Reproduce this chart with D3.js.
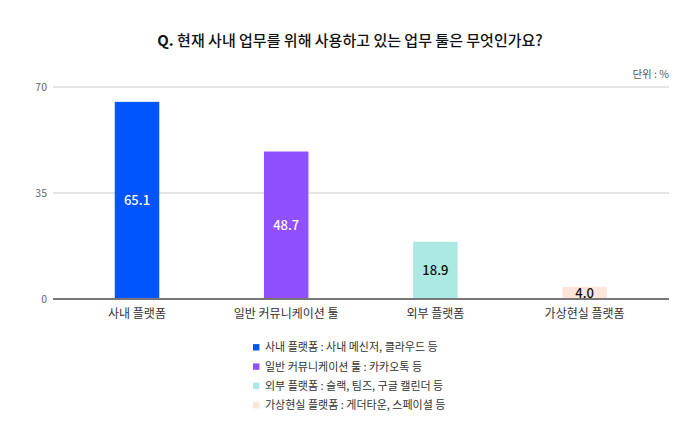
<!DOCTYPE html>
<html><head><meta charset="utf-8">
<script src="https://cdn.jsdelivr.net/npm/d3@7"></script>
<style>
html,body{margin:0;padding:0;background:#fff;}
svg{display:block;font-family:"Noto Sans CJK KR","Noto Sans",sans-serif;}
</style></head>
<body><svg id="chart" width="700" height="443"></svg>
<script>
const categories = ["사내 플랫폼", "일반 커뮤니케이션 툴", "외부 플랫폼", "가상현실 플랫폼"];
const values = [65.1, 48.7, 18.9, 4.0];
const colors = ["#0055ff", "#9150ff", "#ade9e3", "#fde5da"];
const labelColors = ["#ffffff", "#ffffff", "#111111", "#111111"];
const yTicks = [0, 35, 70];
const legendLabels = [
  "사내 플랫폼 : 사내 메신저, 클라우드 등",
  "일반 커뮤니케이션 툴 : 카카오톡 등",
  "외부 플랫폼 : 슬랙, 팀즈, 구글 캘린더 등",
  "가상현실 플랫폼 : 게더타운, 스페이셜 등"
];
const title = "Q. 현재 사내 업무를 위해 사용하고 있는 업무 툴은 무엇인가요?";
const unitLabel = "단위 : %";

const svg = d3.select("#chart");
const plotL = 53, plotR = 669, plotT = 87, plotB = 299;

const x = d3.scaleBand().domain(categories).range([62.4, 659.2]).paddingInner(0).paddingOuter(0);
const y = d3.scaleLinear().domain([0, 70]).range([plotB, plotT]);
const barW = x.bandwidth() * 0.298;

// title
const t = svg.append("text").attr("x", 350).attr("y", 46).attr("text-anchor", "middle")
  .attr("font-size", 15).attr("font-weight", 500).attr("fill", "#111");
t.append("tspan").attr("font-weight", 700).text(title.slice(0, 2));
t.append("tspan").text(title.slice(2));

// unit
svg.append("text").attr("x", plotR).attr("y", 78).attr("text-anchor", "end")
  .attr("font-size", 10.5).attr("fill", "#555").text(unitLabel);

// gridlines
svg.append("g").selectAll("line").data(yTicks.filter(d => d > 0)).join("line")
  .attr("x1", plotL).attr("x2", plotR).attr("y1", d => y(d)).attr("y2", d => y(d))
  .attr("stroke", "#c8c8c8").attr("stroke-width", 1);

// y tick labels
svg.append("g").selectAll("text").data(yTicks).join("text")
  .attr("x", 47).attr("y", d => y(d)).attr("dy", "0.35em").attr("text-anchor", "end")
  .attr("font-size", 10.5).attr("fill", "#666").text(d => d);

// bars
svg.append("g").selectAll("rect").data(values).join("rect")
  .attr("x", (d, i) => x(categories[i]) + x.bandwidth() / 2 - barW / 2)
  .attr("width", barW)
  .attr("y", d => y(d)).attr("height", d => y(0) - y(d))
  .attr("fill", (d, i) => colors[i]);

// value labels
svg.append("g").selectAll("text").data(values).join("text")
  .attr("x", (d, i) => x(categories[i]) + x.bandwidth() / 2)
  .attr("y", d => (y(d) + y(0)) / 2).attr("dy", "0.36em").attr("text-anchor", "middle")
  .attr("font-size", 13).attr("font-weight", 500)
  .attr("fill", (d, i) => labelColors[i]).text(d => d.toFixed(1));

// baseline
svg.append("line").attr("x1", plotL).attr("x2", plotR).attr("y1", y(0)).attr("y2", y(0))
  .attr("stroke", "#777").attr("stroke-width", 2);

// category labels
svg.append("g").selectAll("text").data(categories).join("text")
  .attr("x", d => x(d) + x.bandwidth() / 2).attr("y", 318).attr("text-anchor", "middle")
  .attr("font-size", 12).attr("fill", "#333").text(d => d);

// legend
const lg = svg.append("g").selectAll("g").data(legendLabels).join("g")
  .attr("transform", (d, i) => `translate(253, ${347.3 + i * 19.3})`);
lg.append("rect").attr("x", 0).attr("y", -3.2).attr("width", 6.4).attr("height", 6.4)
  .attr("fill", (d, i) => colors[i]);
lg.append("text").attr("x", 12).attr("y", 0).attr("dy", "0.36em")
  .attr("font-size", 11).attr("fill", "#333").text(d => d);
</script></body></html>
